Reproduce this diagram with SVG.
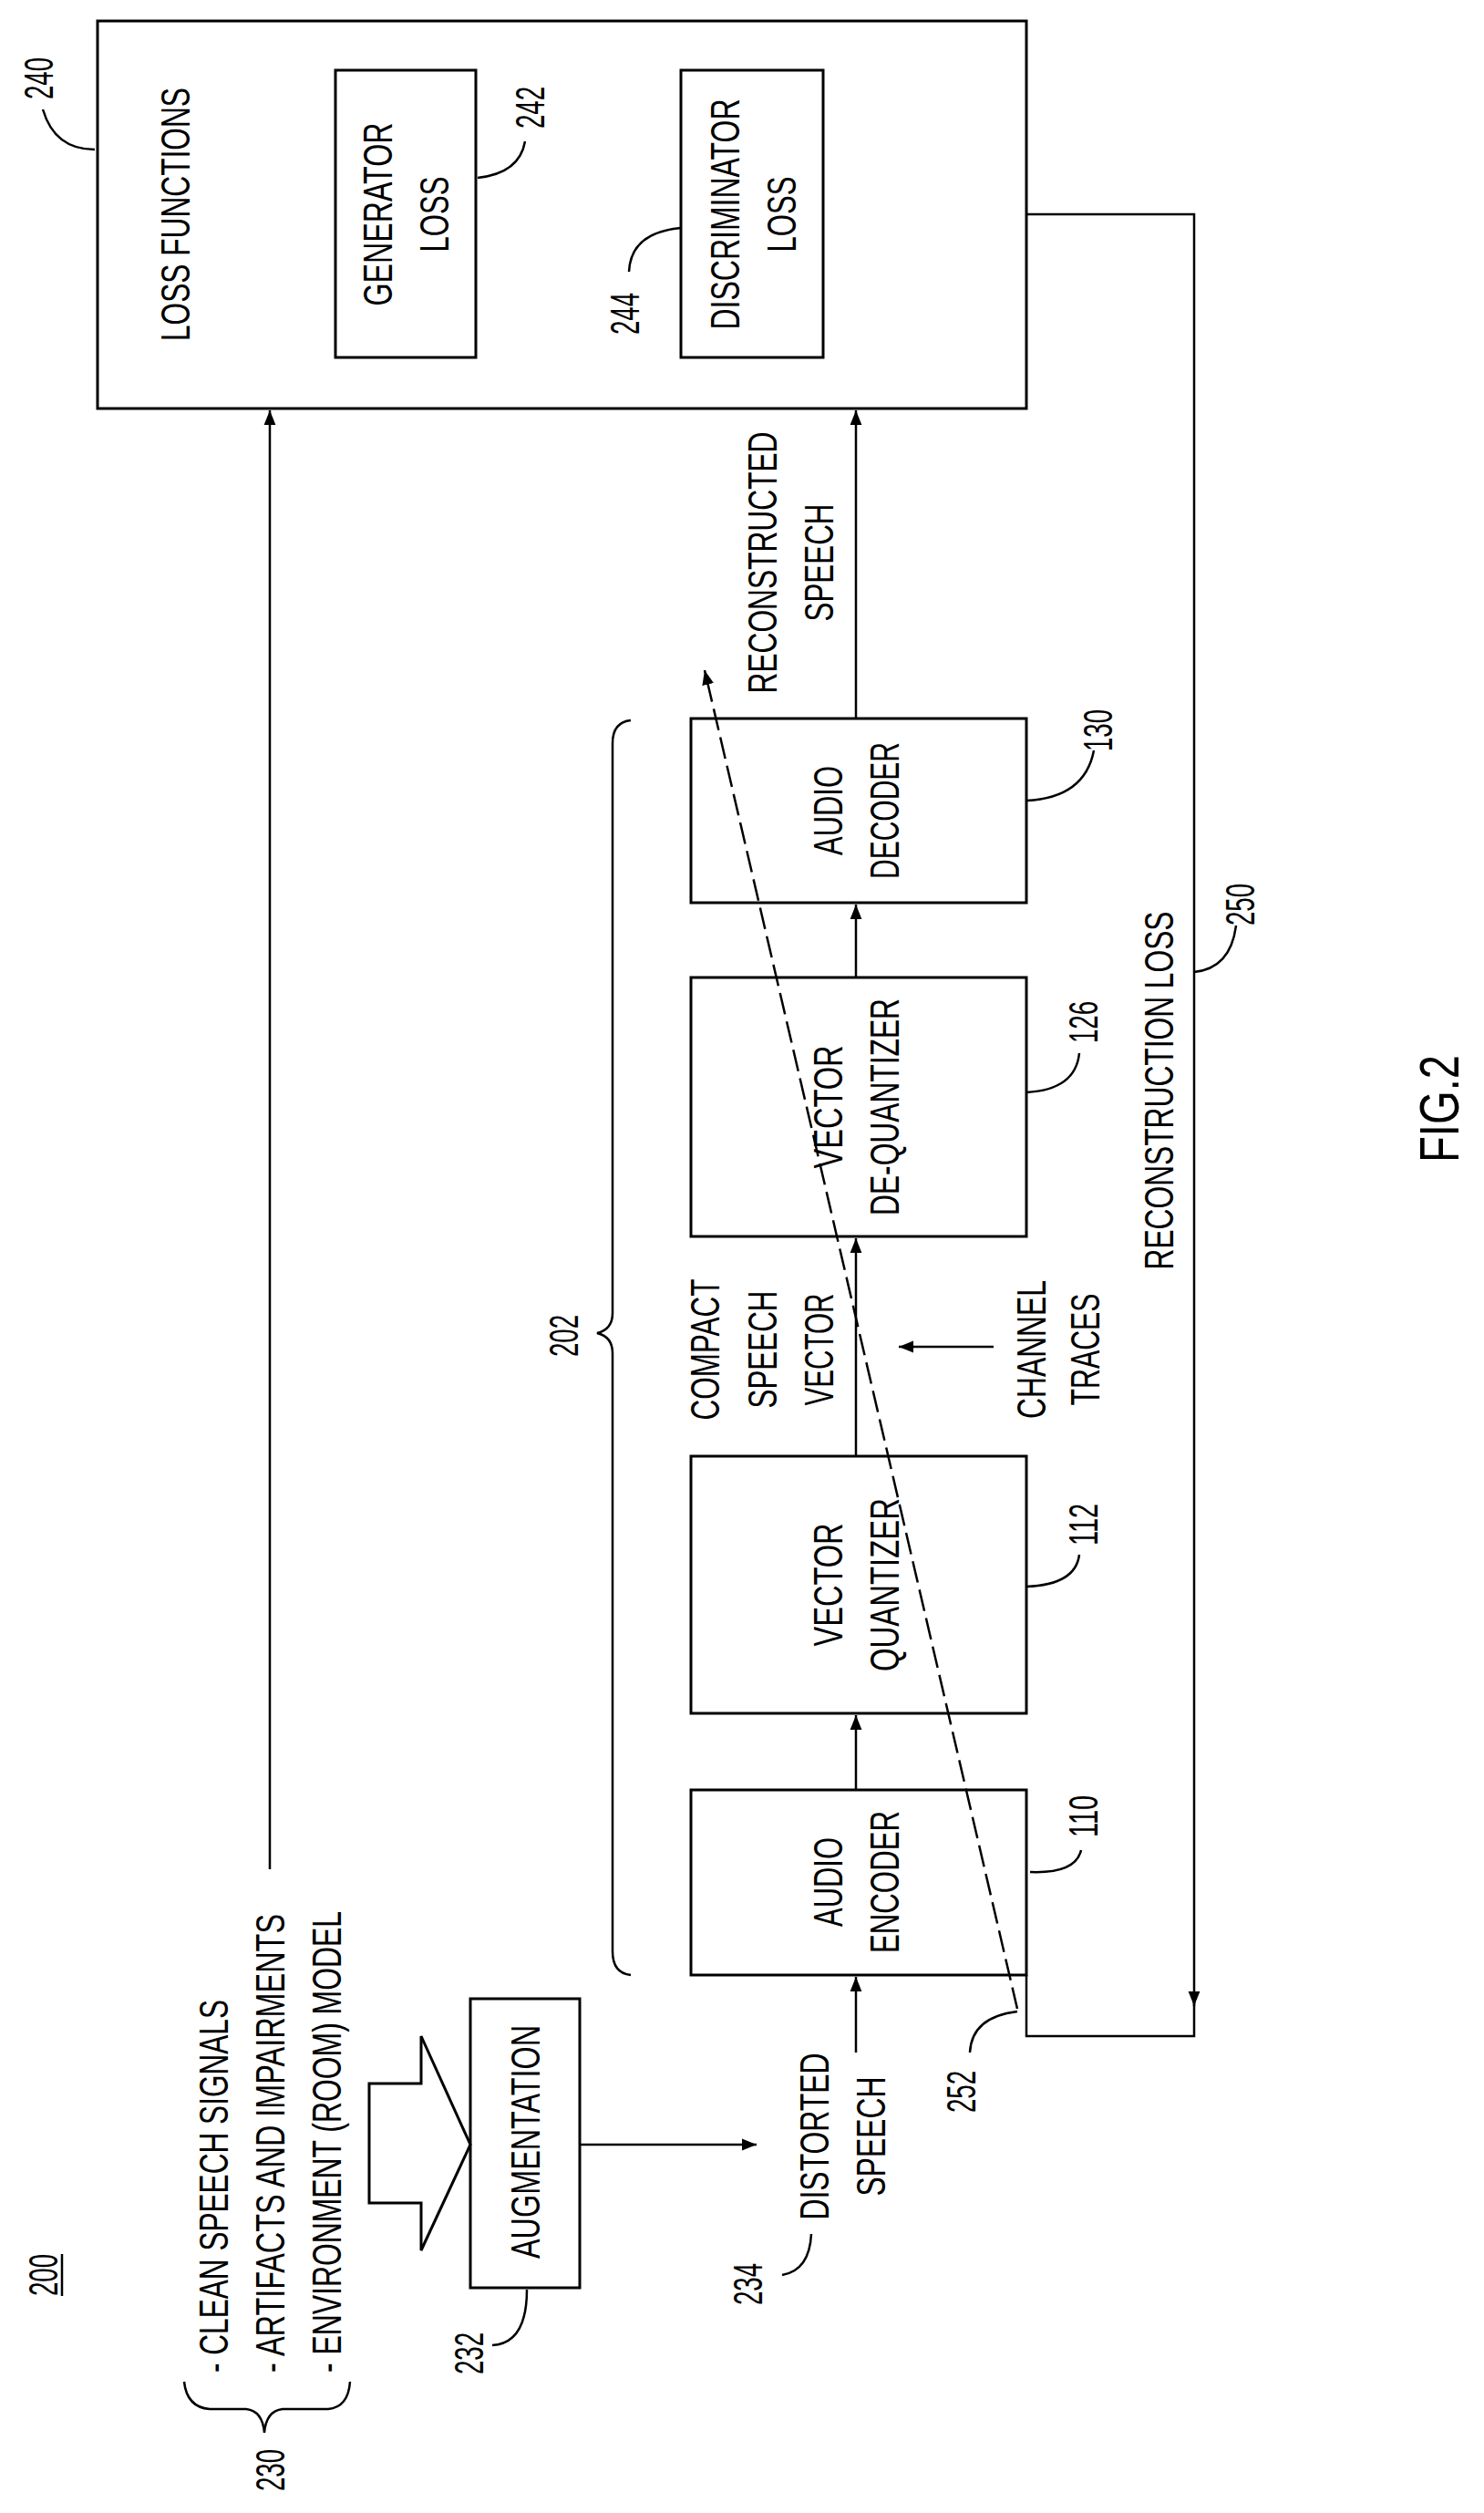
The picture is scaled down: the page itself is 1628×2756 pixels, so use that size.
<svg xmlns="http://www.w3.org/2000/svg" width="1628" height="2756" viewBox="0 0 1628 2756">
<style>
.b{fill:none;stroke:#000;stroke-width:3}
.l{fill:none;stroke:#000;stroke-width:2.5}
.t{font-family:"Liberation Sans",Arial,sans-serif;font-size:44px;fill:#000;text-anchor:middle;dominant-baseline:central}
.s{text-anchor:start}
</style>
<defs>
<marker id="a" viewBox="0 0 10 10" refX="10" refY="5" markerWidth="16" markerHeight="16" markerUnits="userSpaceOnUse" orient="auto"><path d="M0 1 L10 5 L0 9 Z" fill="#000"/></marker>
</defs>
<rect width="1628" height="2756" fill="#fff"/>
<g id="n240"><rect class="b" x="107" y="23" width="1019" height="425"/>
<text class="t" transform="translate(192,235) rotate(-90)" textLength="278" lengthAdjust="spacingAndGlyphs">LOSS FUNCTIONS</text>
<text class="t" transform="translate(42,86) rotate(-90)" textLength="46" lengthAdjust="spacingAndGlyphs">240</text>
<path class="l" d="M47 120 Q60 164 104 164"/></g>
<g id="n242"><rect class="b" x="368" y="77" width="154" height="315"/>
<text class="t" transform="translate(414,235) rotate(-90)" textLength="201" lengthAdjust="spacingAndGlyphs">GENERATOR</text>
<text class="t" transform="translate(476,235) rotate(-90)" textLength="83" lengthAdjust="spacingAndGlyphs">LOSS</text>
<text class="t" transform="translate(581,118) rotate(-90)" textLength="46" lengthAdjust="spacingAndGlyphs">242</text>
<path class="l" d="M524 195 Q570 190 576 155"/></g>
<g id="n244"><rect class="b" x="747" y="77" width="156" height="315"/>
<text class="t" transform="translate(795,235) rotate(-90)" textLength="253" lengthAdjust="spacingAndGlyphs">DISCRIMINATOR</text>
<text class="t" transform="translate(857,235) rotate(-90)" textLength="83" lengthAdjust="spacingAndGlyphs">LOSS</text>
<text class="t" transform="translate(685,344) rotate(-90)" textLength="46" lengthAdjust="spacingAndGlyphs">244</text>
<path class="l" d="M690 298 Q692 255 747 250"/></g>
<g id="n130"><rect class="b" x="758" y="788" width="368" height="202"/>
<text class="t" transform="translate(908,889) rotate(-90)" textLength="98" lengthAdjust="spacingAndGlyphs">AUDIO</text>
<text class="t" transform="translate(970,889) rotate(-90)" textLength="150" lengthAdjust="spacingAndGlyphs">DECODER</text>
<text class="t" transform="translate(1204,801) rotate(-90)" textLength="46" lengthAdjust="spacingAndGlyphs">130</text>
<path class="l" d="M1126 878 Q1190 875 1200 823"/></g>
<g id="n126"><rect class="b" x="758" y="1072" width="368" height="284"/>
<text class="t" transform="translate(908,1214) rotate(-90)" textLength="135" lengthAdjust="spacingAndGlyphs">VECTOR</text>
<text class="t" transform="translate(970,1214) rotate(-90)" textLength="238" lengthAdjust="spacingAndGlyphs">DE-QUANTIZER</text>
<text class="t" transform="translate(1188,1121) rotate(-90)" textLength="46" lengthAdjust="spacingAndGlyphs">126</text>
<path class="l" d="M1126 1198 Q1180 1195 1184 1155"/></g>
<g id="n112"><rect class="b" x="758" y="1597" width="368" height="282"/>
<text class="t" transform="translate(908,1738) rotate(-90)" textLength="135" lengthAdjust="spacingAndGlyphs">VECTOR</text>
<text class="t" transform="translate(970,1738) rotate(-90)" textLength="190" lengthAdjust="spacingAndGlyphs">QUANTIZER</text>
<text class="t" transform="translate(1188,1672) rotate(-90)" textLength="46" lengthAdjust="spacingAndGlyphs">112</text>
<path class="l" d="M1126 1740 Q1180 1738 1184 1705"/></g>
<g id="n110"><rect class="b" x="758" y="1963" width="368" height="203"/>
<text class="t" transform="translate(908,2064) rotate(-90)" textLength="98" lengthAdjust="spacingAndGlyphs">AUDIO</text>
<text class="t" transform="translate(970,2064) rotate(-90)" textLength="156" lengthAdjust="spacingAndGlyphs">ENCODER</text>
<text class="t" transform="translate(1188,1992) rotate(-90)" textLength="46" lengthAdjust="spacingAndGlyphs">110</text>
<path class="l" d="M1130 2053 Q1180 2055 1186 2029"/></g>
<g id="n232"><rect class="b" x="516" y="2192" width="120" height="317"/>
<text class="t" transform="translate(576,2349) rotate(-90)" textLength="256" lengthAdjust="spacingAndGlyphs">AUGMENTATION</text>
<text class="t" transform="translate(514,2581) rotate(-90)" textLength="46" lengthAdjust="spacingAndGlyphs">232</text>
<path class="l" d="M540 2572 Q578 2570 578 2511"/></g>
<g id="n230">
<text class="t s" transform="translate(234,2602) rotate(-90)" textLength="409" lengthAdjust="spacingAndGlyphs">- CLEAN SPEECH SIGNALS</text>
<text class="t s" transform="translate(296,2602) rotate(-90)" textLength="503" lengthAdjust="spacingAndGlyphs">- ARTIFACTS AND IMPAIRMENTS</text>
<text class="t s" transform="translate(358,2602) rotate(-90)" textLength="506" lengthAdjust="spacingAndGlyphs">- ENVIRONMENT (ROOM) MODEL</text>
<path class="l" d="M202 2612 Q205 2640 230 2642 L270 2642 Q288 2644 290 2668 Q292 2644 310 2642 L360 2642 Q382 2640 384 2612"/>
<text class="t" transform="translate(296,2709) rotate(-90)" textLength="46" lengthAdjust="spacingAndGlyphs">230</text>
<path class="b" d="M405 2285 L462 2285 L462 2233 L516 2352 L462 2468 L462 2416 L405 2416 Z" fill="#fff"/></g>
<g id="n200"><text class="t" transform="translate(47,2495) rotate(-90)" textLength="46" lengthAdjust="spacingAndGlyphs">200</text>
<line class="l" x1="68" y1="2472" x2="68" y2="2518"/></g>
<g id="n202"><path class="l" d="M692 790 Q672 792 672 815 L672 1440 Q672 1458 655 1462 Q672 1466 672 1484 L672 2140 Q672 2164 692 2166"/>
<text class="t" transform="translate(618,1465) rotate(-90)" textLength="46" lengthAdjust="spacingAndGlyphs">202</text></g>
<g id="labels">
<text class="t" transform="translate(836,617) rotate(-90)" textLength="287" lengthAdjust="spacingAndGlyphs">RECONSTRUCTED</text>
<text class="t" transform="translate(898,617) rotate(-90)" textLength="129" lengthAdjust="spacingAndGlyphs">SPEECH</text>
<text class="t" transform="translate(773,1480) rotate(-90)" textLength="155" lengthAdjust="spacingAndGlyphs">COMPACT</text>
<text class="t" transform="translate(836,1480) rotate(-90)" textLength="129" lengthAdjust="spacingAndGlyphs">SPEECH</text>
<text class="t" transform="translate(898,1480) rotate(-90)" textLength="123" lengthAdjust="spacingAndGlyphs">VECTOR</text>
<text class="t" transform="translate(1131,1480) rotate(-90)" textLength="152" lengthAdjust="spacingAndGlyphs">CHANNEL</text>
<text class="t" transform="translate(1190,1480) rotate(-90)" textLength="123" lengthAdjust="spacingAndGlyphs">TRACES</text>
<text class="t" transform="translate(1271,1196) rotate(-90)" textLength="393" lengthAdjust="spacingAndGlyphs">RECONSTRUCTION LOSS</text>
<text class="t" transform="translate(1360,992) rotate(-90)" textLength="46" lengthAdjust="spacingAndGlyphs">250</text>
<path class="l" d="M1310 1066 Q1350 1062 1356 1015"/>
<text class="t" transform="translate(893,2343) rotate(-90)" textLength="183" lengthAdjust="spacingAndGlyphs">DISTORTED</text>
<text class="t" transform="translate(955,2343) rotate(-90)" textLength="131" lengthAdjust="spacingAndGlyphs">SPEECH</text>
<text class="t" transform="translate(820,2505) rotate(-90)" textLength="46" lengthAdjust="spacingAndGlyphs">234</text>
<path class="l" d="M858 2495 Q888 2490 890 2450"/>
<text class="t" transform="translate(1054,2294) rotate(-90)" textLength="46" lengthAdjust="spacingAndGlyphs">252</text>
<path class="l" d="M1064 2251 Q1066 2212 1116 2206"/>
<text class="t" style="font-size:62px" transform="translate(1578,1216) rotate(-90)" textLength="118" lengthAdjust="spacingAndGlyphs">FIG.2</text>
</g>
<g id="connectors">
<line class="l" x1="296" y1="2050" x2="296" y2="450" marker-end="url(#a)"/>
<line class="l" x1="939" y1="788" x2="939" y2="450" marker-end="url(#a)"/>
<line class="l" x1="939" y1="1072" x2="939" y2="992" marker-end="url(#a)"/>
<line class="l" x1="939" y1="1597" x2="939" y2="1358" marker-end="url(#a)"/>
<line class="l" x1="939" y1="1963" x2="939" y2="1881" marker-end="url(#a)"/>
<line class="l" x1="939" y1="2251" x2="939" y2="2168" marker-end="url(#a)"/>
<line class="l" x1="1090" y1="1477" x2="986" y2="1477" marker-end="url(#a)"/>
<line class="l" x1="636" y1="2352" x2="830" y2="2352" marker-end="url(#a)"/>
<path class="l" d="M1126 235 L1310 235 L1310 2200" marker-end="url(#a)"/>
<path class="l" d="M1310 2196 L1310 2233 L1126 2233 L1126 2166"/>
<line class="l" x1="1116" y1="2203" x2="773" y2="735" stroke-dasharray="24 8" marker-end="url(#a)"/>
</g>
</svg>
